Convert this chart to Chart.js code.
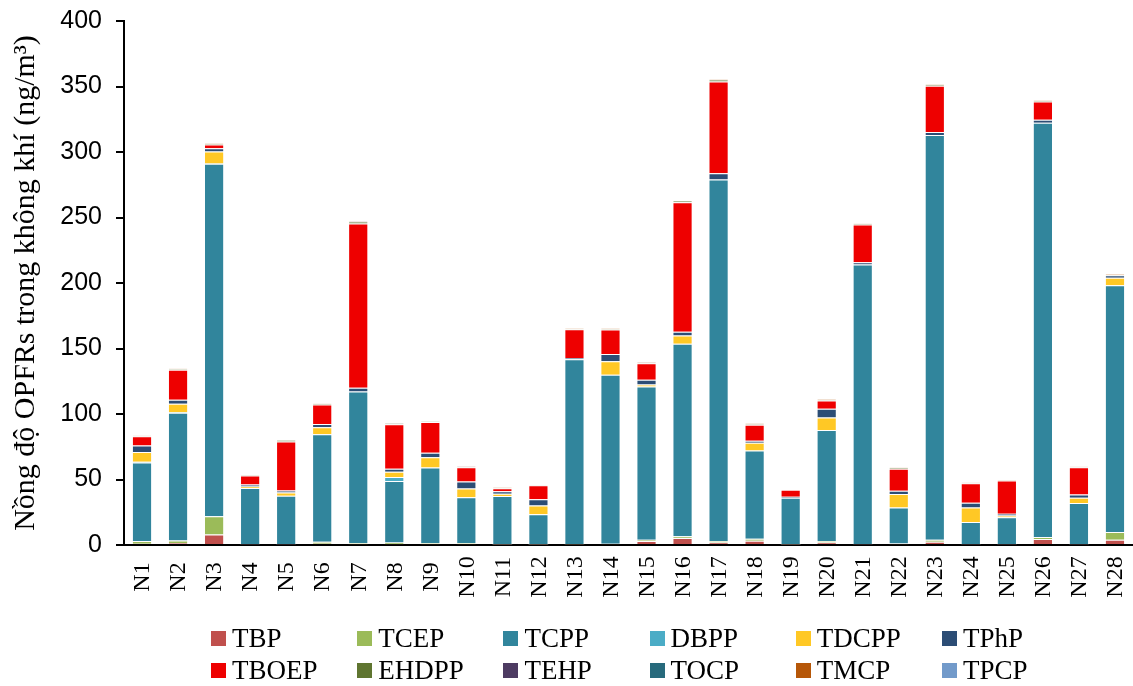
<!DOCTYPE html>
<html>
<head>
<meta charset="utf-8">
<script src="https://cdn.jsdelivr.net/npm/chart.js@4.4.1/dist/chart.umd.min.js"></script>
<style>
  html, body { margin: 0; padding: 0; background: #fff; }
  #wrap { position: relative; width: 1133px; height: 686px; overflow: hidden; }
  #c { position: absolute; left: 0; top: -8px; }
  #legend { position: absolute; left: 0; top: 0; width: 1133px; height: 686px; pointer-events: none;
            font-family: "Liberation Serif", "Times New Roman", serif; font-size: 27px; color: #000; }
  .item { position: absolute; display: flex; align-items: center; white-space: nowrap; }
  .box { width: 15px; height: 15px; margin-right: 6px; }
</style>
</head>
<body>
<div id="wrap">
  <canvas id="c" width="1133" height="628"></canvas>
  <div id="legend"></div>
</div>
<script>
const categories = ["N1","N2","N3","N4","N5","N6","N7","N8","N9","N10","N11","N12","N13","N14",
                    "N15","N16","N17","N18","N19","N20","N21","N22","N23","N24","N25","N26","N27","N28"];
const yTicks = [0, 50, 100, 150, 200, 250, 300, 350, 400];
const seriesNames = ["TBP","TCEP","TCPP","DBPP","TDCPP","TPhP","TBOEP","EHDPP","TEHP","TOCP","TMCP","TPCP"];

const TBP   = [1, 1.5, 8, 0.3, 0.3, 1, 0.5, 0.5, 0.5, 0.5, 0.2, 0.2, 0.3, 0.5, 3, 5.3, 2, 3.3, 0.2, 2, 0.3, 0.5, 2.5, 0.3, 0.3, 4.6, 0.3, 4];
const TCEP  = [2, 2, 14, 0.3, 0.3, 1.5, 1, 1.5, 1, 1, 0.3, 0.3, 0.5, 0.5, 1, 1.3, 1, 1.5, 0.3, 1, 0.3, 0.7, 1.5, 0.3, 0.3, 1.5, 0.3, 5.9];
const TCPP  = [60, 97.5, 269, 43, 37, 82, 115.6, 46.9, 57.6, 35, 37, 23, 141, 129, 117, 147, 276, 67.4, 35.5, 84.7, 213.5, 27.5, 309, 17, 20.5, 316.3, 31.4, 188.4];
const DBPP  = [0.5, 0.3, 0.3, 0, 0, 0.3, 0, 3.1, 0, 0, 0, 0, 0, 0, 0, 0, 0, 0, 0, 0, 0, 0, 0, 0, 0, 0, 0, 0];
const TDCPP = [7.5, 6.5, 9, 1, 2.5, 5, 0, 4, 7.8, 6.6, 1.7, 6.6, 0, 10.2, 1.5, 6.3, 0, 5.9, 0, 9.6, 0, 10.2, 0, 11.1, 1.5, 0, 4.1, 5.7];
const TPhP  = [5, 3, 2.5, 1.5, 1.5, 2.5, 2.9, 2.3, 3.6, 5.3, 1.8, 4.9, 1, 5.6, 3.6, 2.8, 4.8, 1.5, 0.8, 6.7, 1.7, 2.5, 2.3, 3.6, 1.3, 2.3, 2.5, 2];
const TBOEP = [7, 23, 3, 7, 37.5, 15, 125.5, 33.9, 23.3, 10.9, 2.3, 10.6, 21.8, 18.7, 12.6, 98.9, 70, 12.2, 5.3, 6.3, 28.9, 16.9, 35.2, 14.9, 25.4, 13.9, 20.8, 0];
const EHDPP = [0.5, 0.5, 0.5, 0.3, 1, 0.5, 1.5, 0.6, 0.5, 0.3, 0.3, 0.3, 0.5, 0.5, 0.5, 1.2, 1.5, 0.5, 0.2, 0.5, 0.5, 0.4, 1, 0.3, 0.2, 0.5, 0.3, 0.3];
const TEHP  = [0.1, 0.1, 0.1, 0, 0, 0.1, 0.1, 0.1, 0.1, 0.1, 0, 0, 0, 0.1, 0.1, 0.1, 0.1, 0.1, 0, 0.1, 0, 0.1, 0.1, 0.1, 0, 0.1, 0.1, 0.1];
const TOCP  = [0, 0, 0, 0, 0, 0, 0, 0, 0, 0, 0, 0, 0, 0, 0, 0, 0, 0, 0, 0, 0, 0, 0, 0, 0, 0, 0, 0];
const TMCP  = [0.2, 0.2, 0.5, 0.1, 0.2, 0.2, 0.3, 0.2, 0.2, 0.3, 0.2, 0.2, 0.3, 0.3, 0.3, 0.2, 0.3, 0.3, 0.1, 0.5, 0.3, 0.2, 0.3, 0.2, 0.1, 0.3, 0.2, 1];
const TPCP  = [0, 0, 0, 0, 0, 0, 0, 0, 0, 0, 0, 0, 0, 0, 0, 0, 0, 0, 0, 0, 0, 0, 0, 0, 0, 0, 0, 0];

const seriesValues = [TBP, TCEP, TCPP, DBPP, TDCPP, TPhP, TBOEP, EHDPP, TEHP, TOCP, TMCP, TPCP];
const seriesColors = ["#C0504D","#9BBB59","#31859C","#4BACC6","#FFC825","#2C4D75",
                      "#EE0000","#5F7530","#4D3B62","#276A7C","#B65708","#729ACA"];

const datasets = seriesNames.map((name, i) => ({
  label: name,
  data: seriesValues[i],
  backgroundColor: seriesColors[i],
  borderColor: "rgba(255,255,255,0.35)",
  borderWidth: 1,
  categoryPercentage: 1.0,
  barPercentage: 0.56
}));

Chart.defaults.font.family = '"Liberation Serif", "Times New Roman", serif';
Chart.defaults.color = "#000";

// Draws the x category labels rotated -90° and centred on a common line (Excel style)
const xLabelPlugin = {
  id: "xLabels",
  afterDraw(chart) {
    const ctx = chart.ctx, xs = chart.scales.x;
    ctx.save();
    ctx.fillStyle = "#000";
    ctx.font = '24px "Liberation Serif", "Times New Roman", serif';
    ctx.textAlign = "center";
    ctx.textBaseline = "middle";
    categories.forEach((lab, i) => {
      const x = xs.getPixelForTick(i);
      ctx.save();
      ctx.translate(x + 1, chart.chartArea.bottom + 32);
      ctx.rotate(-Math.PI / 2);
      ctx.fillText(lab, 0, 0);
      ctx.restore();
    });
    ctx.restore();
  }
};

new Chart(document.getElementById("c"), {
  type: "bar",
  data: { labels: categories, datasets: datasets },
  plugins: [xLabelPlugin],
  options: {
    responsive: false,
    animation: false,
    devicePixelRatio: 1,
    layout: { padding: { top: 0, right: 0, bottom: 0, left: 0 } },
    plugins: { legend: { display: false }, tooltip: { enabled: false } },
    scales: {
      x: {
        stacked: true,
        grid: { display: true, drawOnChartArea: false, drawTicks: false },
        border: { color: "#000", width: 2 },
        ticks: { display: false },
        afterFit: (s) => { s.height = 75; }
      },
      y: {
        stacked: true,
        min: 0, max: 400,
        afterBuildTicks: (s) => { s.ticks = yTicks.map(v => ({ value: v })); },
        grid: { display: true, drawOnChartArea: false, drawTicks: true, tickLength: 8, color: "#000", lineWidth: 2 },
        border: { color: "#000", width: 2 },
        ticks: {
          padding: 14,
          font: { family: '"Liberation Sans", Arial, sans-serif', size: 25 }, color: "#000"
        },
        title: {
          display: true,
          text: "Nồng độ OPFRs trong không khí (ng/m³)",
          font: { family: '"Liberation Serif", "Times New Roman", serif', size: 30 },
          color: "#000",
          padding: { top: 8, bottom: 0 }
        },
        afterFit: (s) => { s.width = 124; }
      }
    }
  }
});

// HTML legend built from series names/colours
const legend = document.getElementById("legend");
seriesNames.forEach((name, i) => {
  const col = i % 6, row = Math.floor(i / 6);
  const el = document.createElement("div");
  el.className = "item";
  el.style.left = (211 + col * 146.2) + "px";
  el.style.top = (row === 0 ? 622 : 654) + "px";
  el.style.height = "32px";
  const b = document.createElement("span");
  b.className = "box";
  b.style.background = seriesColors[i];
  const t = document.createElement("span");
  t.textContent = name;
  el.appendChild(b); el.appendChild(t);
  legend.appendChild(el);
});
</script>
</body>
</html>
